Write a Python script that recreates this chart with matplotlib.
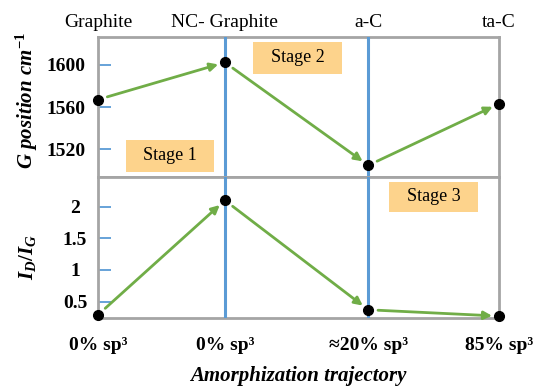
import matplotlib
matplotlib.use("Agg")
import matplotlib.pyplot as plt
from matplotlib.patches import Rectangle

plt.rcParams['font.family'] = ['Liberation Serif', 'DejaVu Serif']
plt.rcParams['mathtext.fontset'] = 'custom'
plt.rcParams['mathtext.it'] = 'Liberation Serif:italic:bold'
plt.rcParams['mathtext.rm'] = 'Liberation Serif:bold'
plt.rcParams['mathtext.bf'] = 'Liberation Serif:bold'

# ---- data ----
phases = ["Graphite", "NC- Graphite", "a-C", "ta-C"]
sp3_labels = ["0% sp³", "0% sp³", "≈20% sp³", "85% sp³"]
trajectory_pos = [0, 1, 2.13, 3.16]
g_position = [1567, 1602, 1505, 1563]
id_ig = [0.29, 2.10, 0.37, 0.27]
g_ticks = [1520, 1560, 1600]
r_ticks = [0.5, 1, 1.5, 2]
stages = ["Stage 1", "Stage 2", "Stage 3"]

GRAY = '#A5A5A5'
BLUE = '#5B9BD5'
GREEN = '#70AD47'
ORANGE = '#FDD38C'

fig = plt.figure(figsize=(5.37, 3.88), dpi=100)
L, R = 98/537, 499/537
T, M, B = 1-37/388, 1-177/388, 1-318/388
ax1 = fig.add_axes([L, M, R-L, T-M])
ax2 = fig.add_axes([L, B, R-L, M-B])

xlim = (trajectory_pos[0], trajectory_pos[-1])
for ax in (ax1, ax2):
    ax.set_xlim(*xlim)
    for s in ax.spines.values():
        s.set_color(GRAY)
        s.set_linewidth(2)
    ax.set_xticks([])
    ax.tick_params(axis='y', direction='in', length=9, width=1.3, color=BLUE,
                   pad=9, labelsize=14)
    for xp in trajectory_pos[1:3]:
        ax.axvline(xp, color=BLUE, lw=2.2, zorder=3)

ax1.set_ylim(1494, 1626)
ax1.set_yticks(g_ticks)
ax1.set_yticklabels([str(t) for t in g_ticks], fontweight='bold', fontsize=14)
ax2.set_ylim(0.24, 2.47)
ax2.set_yticks(r_ticks)
ax2.tick_params(axis='y', pad=16.5)
ax2.set_yticklabels([f"{t:g}" for t in r_ticks], fontweight='bold', fontsize=14,
                    ha='center')

def draw(ax, ys):
    ax.plot(trajectory_pos, ys, 'o', color='black', markersize=7,
            clip_on=False, zorder=5, linestyle='none')
    for i in range(len(ys)-1):
        ax.annotate('', xy=(trajectory_pos[i+1], ys[i+1]),
                    xytext=(trajectory_pos[i], ys[i]),
                    arrowprops=dict(arrowstyle='-|>', color=GREEN, lw=2,
                                    mutation_scale=12, shrinkA=7, shrinkB=5),
                    zorder=4, annotation_clip=False)

draw(ax1, g_position)
draw(ax2, id_ig)

# top phase labels
for xp, name in zip(trajectory_pos, phases):
    ax1.text(xp, 1.04, name, transform=ax1.get_xaxis_transform(),
             ha='center', va='bottom', fontsize=14)
# bottom sp3 labels
for xp, name in zip(trajectory_pos, sp3_labels):
    ax2.text(xp, -0.135, name, transform=ax2.get_xaxis_transform(),
             ha='center', va='top', fontsize=14, fontweight='bold')

# stage boxes
boxes = [(ax1, 0.070, 0.036, 0.219, 0.229),
         (ax1, 0.387, 0.736, 0.222, 0.229),
         (ax2, 0.726, 0.752, 0.222, 0.213)]
for (ax, x0, y0, w, h), label in zip(boxes, stages):
    ax.add_patch(Rectangle((x0, y0), w, h, transform=ax.transAxes,
                           facecolor=ORANGE, edgecolor='none', zorder=2))
    ax.text(x0+w/2, y0+h/2, label, transform=ax.transAxes, ha='center',
            va='center', fontsize=13, zorder=3)

fig.text(27/537, 1-100/388, r'$G\ position\ cm^{-1}$', rotation=90,
         ha='center', va='center', fontsize=15)
fig.text(27/537, 1-257/388, r'$I_D/I_G$', rotation=90,
         ha='center', va='center', fontsize=15)
fig.text((L+R)/2, 1-376/388, 'Amorphization trajectory', ha='center',
         va='center', fontsize=15, fontweight='bold', fontstyle='italic')

fig.savefig('out.png', dpi=100)
